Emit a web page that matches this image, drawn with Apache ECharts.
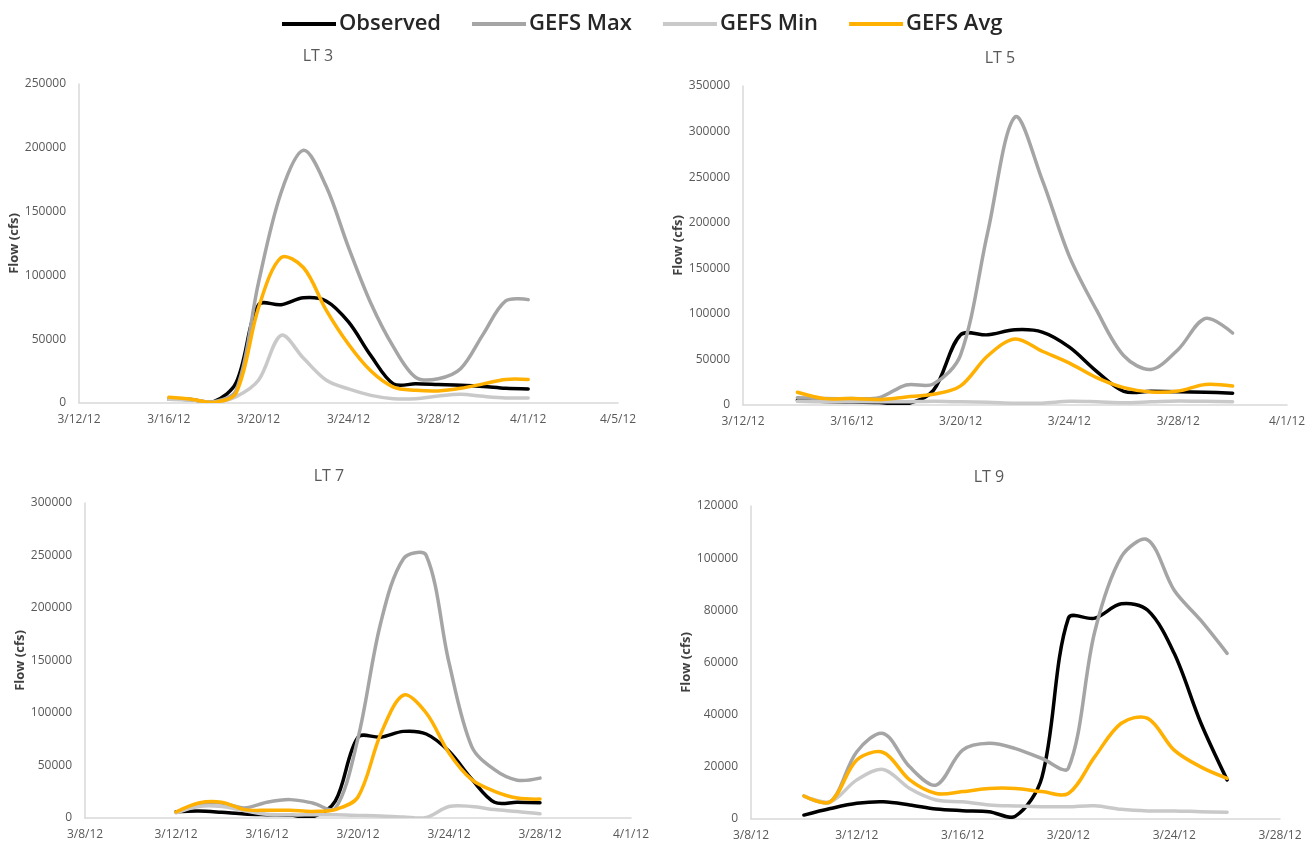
<!DOCTYPE html>
<html>
<head>
<meta charset="utf-8">
<script src="https://cdn.jsdelivr.net/npm/echarts@6/dist/echarts.min.js"></script>
<style>
html,body{margin:0;padding:0;background:#ffffff;}
#chart{width:1311px;height:845px;}
</style>
</head>
<body>
<div id="chart"></div>
<script>
// ---- data ----
const seriesNames = ['Observed', 'GEFS Max', 'GEFS Min', 'GEFS Avg'];
const panelTitles = ['LT 3', 'LT 5', 'LT 7', 'LT 9'];

const obsDates = ['3/10/12','3/11/12','3/12/12','3/13/12','3/14/12','3/15/12','3/16/12','3/17/12','3/18/12','3/19/12','3/20/12','3/21/12','3/22/12','3/23/12','3/24/12','3/25/12','3/26/12','3/27/12','3/28/12','3/29/12','3/30/12','3/31/12','4/1/12'];
const observed = [1500, 4000, 6000, 6600, 5400, 3800, 3200, 2800, 1100, 16000, 77000, 77000, 82500, 80000, 63500, 37000, 15000, 15000, 14500, 14000, 13000, 11500, 11000];

// LT 3 : 3/16/12 - 4/1/12
const lt3Start = '3/16/12';
const lt3Max = [3000, 2500, 1000, 10000, 95000, 165000, 198000, 170000, 122000, 78000, 44000, 20000, 19000, 27000, 54000, 80000, 81000];
const lt3Min = [3000, 2500, 500, 5000, 18000, 53000, 35000, 18000, 11000, 6000, 3400, 3400, 5500, 6800, 5200, 4000, 4000];
const lt3Avg = [4500, 3000, 500, 8000, 75000, 114000, 106000, 73000, 46000, 25000, 12500, 10000, 9500, 11500, 15000, 18500, 18500];

// LT 5 : 3/14/12 - 3/30/12
const lt5Start = '3/14/12';
const lt5Max = [8000, 7000, 7000, 8000, 22000, 23000, 55000, 190000, 316000, 247000, 163000, 104000, 54000, 39000, 61000, 95000, 79000];
const lt5Min = [4000, 3500, 3500, 3500, 3500, 4000, 3500, 3000, 2000, 2000, 4000, 3500, 2500, 3500, 4500, 4000, 3500];
const lt5Avg = [14000, 7000, 7000, 6000, 8800, 11700, 21000, 54000, 72500, 59000, 46000, 30000, 19000, 14200, 15300, 22600, 20800];

// LT 7 : 3/12/12 - 3/28/12
const lt7Start = '3/12/12';
const lt7Max = [5400, 12700, 14300, 9500, 15000, 17500, 14300, 9000, 76000, 186000, 247000, 250000, 148000, 68000, 46000, 36000, 38000];
const lt7Min = [5000, 11000, 11000, 7000, 3500, 3000, 3000, 3000, 2500, 2000, 1000, 500, 11000, 11000, 8000, 6300, 4000];
const lt7Avg = [5700, 14300, 15000, 8000, 7300, 7300, 6300, 8000, 20000, 80000, 117000, 100000, 62000, 36500, 25400, 19000, 18000];

// LT 9 : 3/10/12 - 3/26/12
const lt9Start = '3/10/12';
const lt9Max = [8800, 6600, 25800, 32800, 20000, 13000, 26400, 29000, 27000, 23200, 19500, 72000, 100500, 107000, 87700, 76200, 63500];
const lt9Min = [8800, 6600, 15000, 19000, 11700, 7300, 6600, 5400, 5000, 4700, 4700, 5100, 3700, 3100, 3100, 2800, 2600];
const lt9Avg = [8800, 6600, 22600, 25500, 15000, 9800, 10500, 11700, 11700, 10500, 9800, 23900, 36700, 38600, 26400, 20000, 15600];

// axis ranges (dates) and y ranges
const xRanges = [['3/12/12','4/5/12'], ['3/12/12','4/1/12'], ['3/8/12','4/1/12'], ['3/8/12','3/28/12']];
const yMaxes = [250000, 350000, 300000, 120000];
const yIntervals = [50000, 50000, 50000, 20000];

// ---- helpers ----
function dayNum(s){ const p = s.split('/'); const m = +p[0], d = +p[1]; return m === 3 ? d : 31 + d; }
function dayLabel(v){ return v <= 31 ? ('3/' + v + '/12') : ('4/' + (v - 31) + '/12'); }

const panels = [
  {start: lt3Start, max: lt3Max, min: lt3Min, avg: lt3Avg},
  {start: lt5Start, max: lt5Max, min: lt5Min, avg: lt5Avg},
  {start: lt7Start, max: lt7Max, min: lt7Min, avg: lt7Avg},
  {start: lt9Start, max: lt9Max, min: lt9Min, avg: lt9Avg}
];

// layout (pixels)
const grids = [
  {left: 79, top: 84, width: 539, height: 319},
  {left: 743, top: 86, width: 544, height: 319},
  {left: 85, top: 503, width: 546, height: 315},
  {left: 751, top: 506, width: 529, height: 313}
];
const titlePos = [[318, 48], [1000, 50], [329, 468], [989, 469]];
const nameGaps = [50, 52, 54, 53];

const colors = ['#000000', '#a5a5a5', '#c9c9c9', '#ffb000'];
const font = "'Open Sans', 'Noto Sans', sans-serif";

// smooth line (Excel-like spline) drawn through the axis scales with api.coord
function smoothRenderer(data, color) {
  return function (params, api) {
    if (params.dataIndex !== 0) return null;
    const pts = data.map(d => api.coord(d));
    return {
      type: 'polyline',
      shape: {points: pts, smooth: 0.33},
      style: {stroke: color, lineWidth: 3.5, fill: null, lineJoin: 'round', lineCap: 'round'}
    };
  };
}

const option = {
  backgroundColor: '#ffffff',
  animation: false,
  title: panelTitles.map((t, i) => ({
    text: t, left: titlePos[i][0], top: titlePos[i][1], textAlign: 'center', padding: 0,
    textStyle: {fontFamily: font, fontSize: 16, fontWeight: 'normal', color: '#595959'}
  })),
  legend: {
    data: seriesNames, top: 8, left: 277, icon: 'rect', itemWidth: 54, itemHeight: 4, itemGap: 31,
    textStyle: {fontFamily: font, fontSize: 22, fontWeight: 600, color: '#262626', padding: [0,0,0,-2]}
  },
  grid: grids.map(g => Object.assign({containLabel: false}, g)),
  xAxis: grids.map((g, i) => ({
    type: 'value', gridIndex: i,
    min: dayNum(xRanges[i][0]), max: dayNum(xRanges[i][1]), interval: 4,
    axisLine: {show: true, lineStyle: {color: '#d9d9d9', width: 1.5}},
    axisTick: {show: false}, splitLine: {show: false},
    axisLabel: {formatter: dayLabel, fontFamily: font, fontSize: 12, color: '#595959', margin: 11}
  })),
  yAxis: grids.map((g, i) => ({
    type: 'value', gridIndex: i, min: 0, max: yMaxes[i], interval: yIntervals[i],
    name: 'Flow (cfs)', nameLocation: 'middle', nameGap: nameGaps[i],
    nameTextStyle: {fontFamily: font, fontSize: 13, fontWeight: 'bold', color: '#404040'},
    axisLine: {show: true, lineStyle: {color: '#d9d9d9', width: 1.5}},
    axisTick: {show: false}, splitLine: {show: false},
    axisLabel: {formatter: v => String(v), fontFamily: font, fontSize: 12, color: '#595959', margin: 13}
  })),
  series: []
};

panels.forEach((p, i) => {
  const s0 = obsDates.indexOf(p.start);
  const n = p.max.length;
  const days = obsDates.slice(s0, s0 + n).map(dayNum);
  const obs = observed.slice(s0, s0 + n);
  const sets = [obs, p.max, p.min, p.avg];
  sets.forEach((vals, k) => {
    const data = days.map((d, j) => [d, vals[j]]);
    option.series.push({
      name: seriesNames[k], type: 'custom', coordinateSystem: 'cartesian2d',
      xAxisIndex: i, yAxisIndex: i, clip: true,
      encode: {x: 0, y: 1},
      data: data,
      itemStyle: {color: colors[k]},
      renderItem: smoothRenderer(data, colors[k]),
      z: 2 + k
    });
  });
});

const chart = echarts.init(document.getElementById('chart'));
chart.setOption(option);
</script>
</body>
</html>
